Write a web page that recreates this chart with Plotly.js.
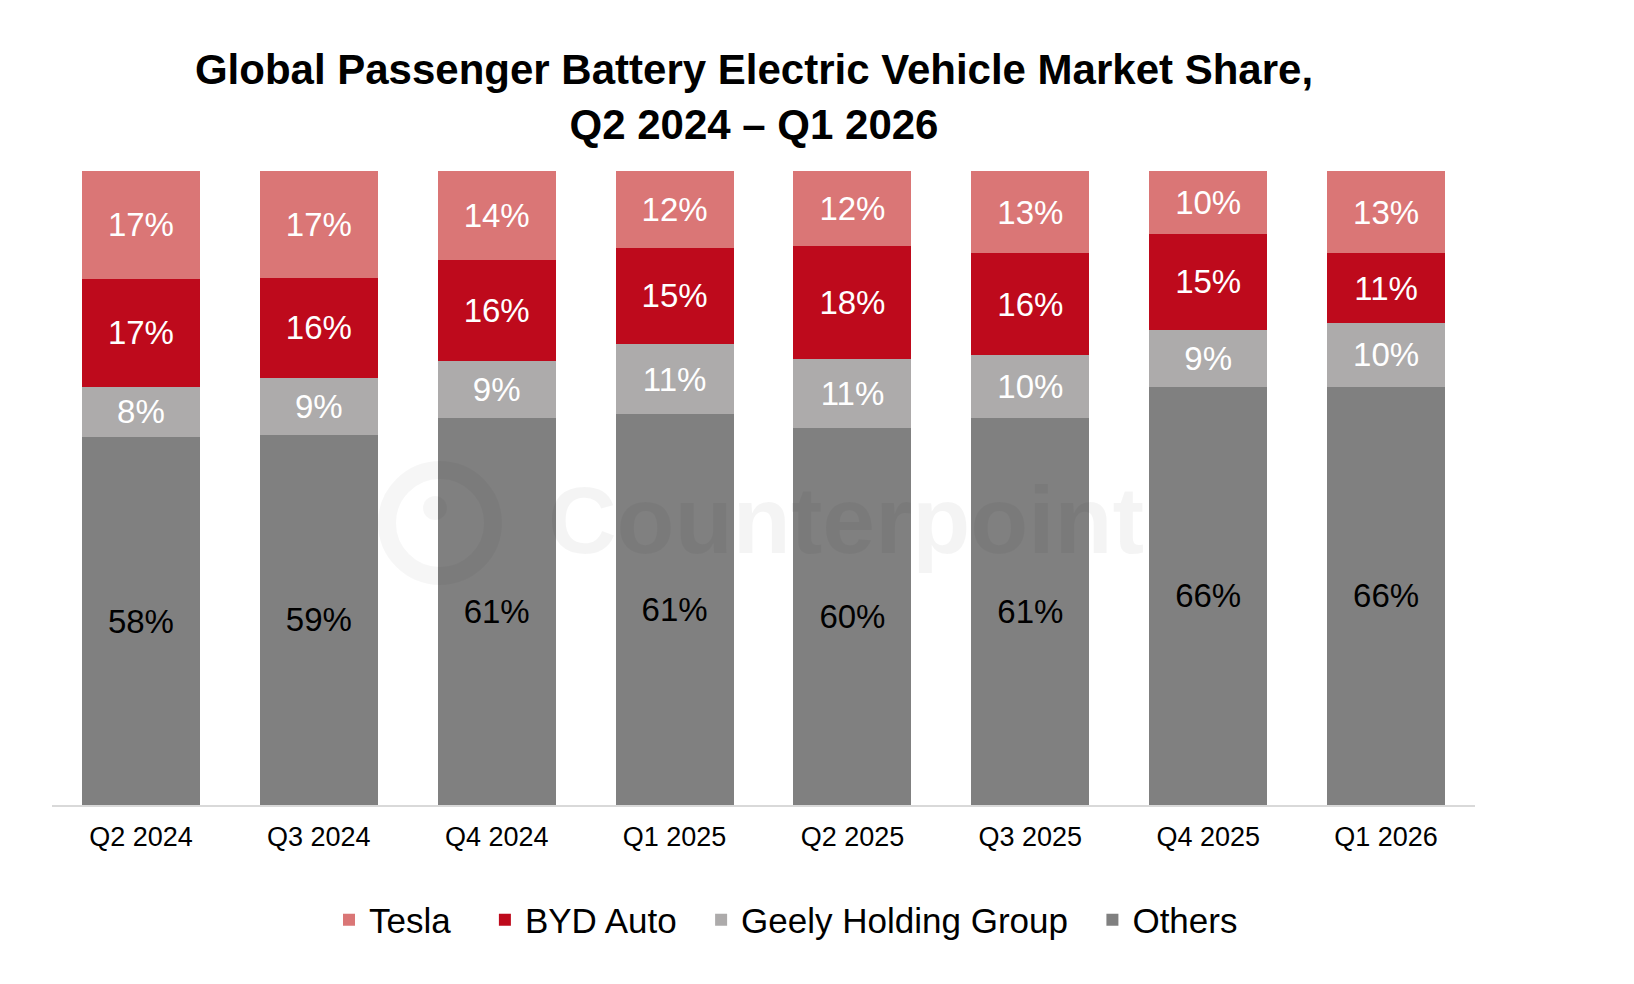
<!DOCTYPE html>
<html>
<head>
<meta charset="utf-8">
<script src="https://cdn.plot.ly/plotly-3.0.1.min.js"></script>
<style>html,body{margin:0;padding:0;background:#fff;}#chart{width:1634px;height:984px;}</style>
</head>
<body>
<div id="chart"></div>
<script>
const quarters = ["Q2 2024","Q3 2024","Q4 2024","Q1 2025","Q2 2025","Q3 2025","Q4 2025","Q1 2026"];
const tesla  = [17,17,14,12,12,13,10,13];
const byd    = [17,16,16,15,18,16,15,11];
const geely  = [8,9,9,11,11,10,9,10];
const others = [58,59,61,61,60,61,66,66];
const seriesNames = ["Tesla","BYD Auto","Geely Holding Group","Others"];

const FONT = "Arial, 'Liberation Sans', sans-serif";
const PAD = '\u00a0';

function mk(name, pad, vals, color, txtColor){
  return {
    type: 'bar', name: name + PAD.repeat(pad), x: quarters, y: vals,
    marker: {color: color, line: {width: 0}},
    text: vals.map(v => v + '%'),
    textposition: 'inside',
    insidetextanchor: 'middle',
    textangle: 0,
    constraintext: 'none',
    textfont: {family: FONT, size: 33, color: txtColor},
    hoverinfo: 'x+name+text'
  };
}

const data = [
  mk(seriesNames[3], 0, others, '#808080', '#000000'),
  mk(seriesNames[2], 2, geely, '#ADABAB', '#FFFFFF'),
  mk(seriesNames[1], 2, byd, '#BE0A1C', '#FFFFFF'),
  mk(seriesNames[0], 3, tesla, '#DA7676', '#FFFFFF')
];

// plot area in pixels: x 52..1475, y 171..805
const px = v => (v - 52) / 1423;
const py = v => (805 - v) / 634;
const WM = 'rgba(0,0,0,0.045)';

const layout = {
  width: 1634, height: 984,
  margin: {l: 52, r: 159, t: 171, b: 179},
  paper_bgcolor: '#FFFFFF', plot_bgcolor: '#FFFFFF',
  barmode: 'stack', barnorm: 'percent', bargap: 0.336,
  title: {
    text: 'Global Passenger Battery Electric Vehicle Market Share,<br>Q2 2024 \u2013 Q1 2026',
    font: {family: FONT, size: 42, color: '#000000', weight: 'bold'},
    xref: 'container', x: 754/1634, xanchor: 'center',
    yref: 'container', y: 1 - 84/984, yanchor: 'top'
  },
  xaxis: {
    type: 'category', showgrid: false, zeroline: false,
    showline: true, linecolor: '#D9D9D9', linewidth: 2,
    ticks: '', ticklabelstandoff: 7,
    tickfont: {family: FONT, size: 27, color: '#000000'}
  },
  yaxis: {
    range: [0, 100], showgrid: false, zeroline: false, showline: false,
    showticklabels: false, ticks: ''
  },
  showlegend: true,
  legend: {
    orientation: 'h', traceorder: 'reversed',
    x: px(786), xanchor: 'center',
    y: py(920), yanchor: 'middle',
    font: {family: FONT, size: 35, color: '#000000'},
    itemwidth: 30
  },
  shapes: [
    {type: 'circle', xref: 'paper', yref: 'paper', layer: 'above',
     x0: px(440-53), x1: px(440+53), y0: py(523+53), y1: py(523-53),
     line: {color: 'rgba(0,0,0,0.035)', width: 18}, fillcolor: 'rgba(0,0,0,0)'},
    {type: 'circle', xref: 'paper', yref: 'paper', layer: 'above',
     x0: px(423), x1: px(447), y0: py(520), y1: py(496),
     line: {width: 0}, fillcolor: 'rgba(0,0,0,0.035)'}
  ],
  annotations: [{
    text: '<b>Counterpoint</b>', xref: 'paper', yref: 'paper',
    x: px(846), y: py(520), xanchor: 'center', yanchor: 'middle',
    showarrow: false,
    font: {family: FONT, size: 95, color: WM}
  }]
};

Plotly.newPlot('chart', data, layout, {displayModeBar: false, staticPlot: true});
</script>
</body>
</html>
